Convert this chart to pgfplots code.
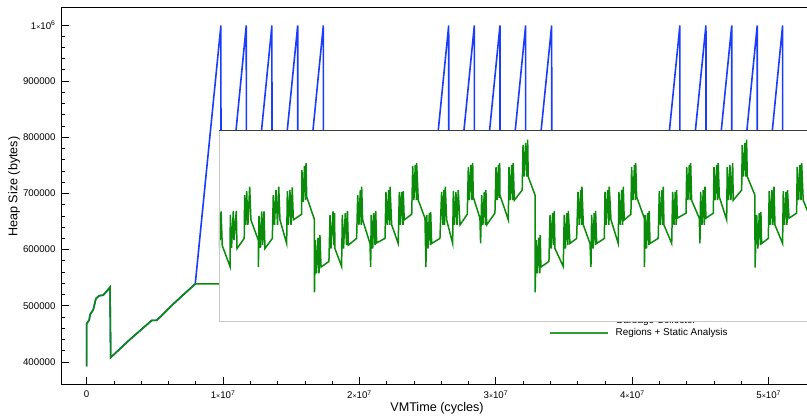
\documentclass[border=0pt]{standalone}
\usepackage{fontspec}
\setmainfont{Liberation Sans}
\usepackage{pgfplots}
\pgfplotsset{compat=1.18}

\definecolor{gcblue}{RGB}{25,60,255}
\definecolor{rsgreen}{RGB}{10,140,10}
\definecolor{boxedge}{RGB}{200,200,200}
\definecolor{boxtop}{RGB}{60,60,60}

% small multiplication sign used in the tick labels
\newcommand{\tms}{{\fontsize{7}{7}\selectfont ×}}

\begin{document}
\begin{tikzpicture}
% x in units of 10^6 cycles, y in units of 1000 bytes
\begin{axis}[
  at={(0,0)}, anchor=south west,
  x=13.64pt, y=0.5617pt,
  xmin=-1.81, xmax=53.18, ymin=360.8, ymax=1031.5,
  axis line style={line width=1pt},
  xtick={0,10,20,30,40,50},
  xticklabels={0,1\tms10\textsuperscript{7},2\tms10\textsuperscript{7},3\tms10\textsuperscript{7},4\tms10\textsuperscript{7},5\tms10\textsuperscript{7}},
  ytick={400,500,600,700,800,900,1000},
  yticklabels={400000,500000,600000,700000,800000,900000,1\tms10\textsuperscript{6}},
  minor x tick num=4, minor y tick num=4,
  tick pos=left, tick align=inside,
  major tick length=7pt, minor tick length=3.5pt,
  tick style={line width=0.8pt, black},
  ticklabel style={font=\fontsize{9.7}{11}\selectfont},
  yticklabel style={xshift=-3pt},
  xticklabel style={yshift=-3pt},
  xlabel={VMTime (cycles)},
  ylabel={Heap Size (bytes)},
  xlabel style={at={(rel axis cs:0.5,-0.0648)}, anchor=center, font=\fontsize{12.6}{14}\selectfont},
  ylabel style={at={(rel axis cs:-0.0637,0.524)}, anchor=center, font=\fontsize{12.6}{14}\selectfont},
  legend style={at={(0.6493,0.1517)}, anchor=west, draw=none, fill=none,
    inner sep=0pt, outer sep=0pt, font=\fontsize{9.9}{11}\selectfont, row sep=2.5pt,
    nodes={inner sep=0pt, text height=7.3pt, text depth=2.4pt}},
  /tikz/every odd column/.append style={column sep=7pt},
  legend cell align=left,
]
\addplot[gcblue, line width=1.6pt,
  legend image code/.code={\draw[gcblue, line width=1.6pt] (0pt,0pt) -- (58pt,0pt);}] coordinates {
  (0,392) (0,468) (0.19,475) (0.24,484) (0.48,493) (0.68,513) (0.92,518) (1.22,519)
  (1.71,533) (1.76,408) (3.17,440) (4.77,474) (5.13,474) (6.47,506) (7.96,539)
  (9.84,999) (9.85,540) (11.70,999) (11.71,540) (13.58,999) (13.59,540)
  (15.47,999) (15.48,540) (17.35,999) (17.36,540)
  (24.66,540) (26.54,999) (26.55,540) (28.42,999) (28.43,540) (30.30,999) (30.31,540)
  (32.18,999) (32.19,540) (34.09,999) (34.10,540)
  (41.61,540) (43.49,999) (43.50,540) (45.40,999) (45.41,540) (47.29,999) (47.30,540)
  (49.16,999) (49.17,540) (51.02,999) (51.03,540) (53.5,540)
};
\addlegendentry{Garbage Collector}
\addplot[rsgreen, line width=1.6pt,
  legend image code/.code={\draw[rsgreen!85!white, line width=1.6pt] (0pt,0pt) -- (58pt,0pt);}] coordinates {
  (0,392) (0,468) (0.19,475) (0.24,484) (0.48,493) (0.68,513) (0.92,518) (1.22,519)
  (1.71,533) (1.76,408) (3.17,440) (4.77,474) (5.13,474) (6.47,506) (7.96,539)
  (9.80,539)
};
\addlegendentry{Regions + Static Analysis}
\coordinate (boxsw) at (axis cs:9.70,473);
\end{axis}

% white panel that lies over the plot, with the green series drawn over it
\begin{axis}[
  at={(boxsw)}, anchor=south west,
  x=13.64pt, y=0.5617pt,
  xmin=9.70, xmax=53.4, ymin=473, ymax=812.5,
  axis line style={draw=none}, ticks=none,
  axis background/.style={fill=white},
  clip mode=individual,
]
\addplot[rsgreen, line width=1.5pt] coordinates {
  (9.72,602) (9.74,662) (9.79,617) (9.85,668) (9.94,607) (10.51,570)
  (10.53,662) (10.62,603) (10.75,669) (10.80,617) (10.97,669) (11.02,602) (11.55,620)
  (11.58,697) (11.66,644) (11.73,704) (11.82,644) (11.95,712) (12.04,653) (12.58,617)
  (12.59,569) (12.63,660) (12.74,603) (12.83,668) (12.90,608) (13.00,668) (13.07,602) (13.61,620)
  (13.68,697) (13.77,644) (13.88,706) (13.99,644) (14.08,712) (14.17,653) (14.66,611)
  (14.71,704) (14.79,644) (14.90,706) (14.98,644) (15.07,711) (15.15,653) (15.76,663)
  (15.78,742) (15.86,685) (15.97,749) (16.04,688) (16.08,754) (16.13,694) (16.69,654)
  (16.70,524) (16.76,617) (16.85,558) (16.96,621) (17.03,558) (17.10,626) (17.18,569) (17.76,579)
  (17.84,662) (17.91,602) (18.06,668) (18.13,608) (18.17,665) (18.20,602) (18.69,570)
  (18.74,662) (18.83,602) (18.96,665) (19.05,608) (19.12,669) (19.18,608) (19.79,620)
  (19.87,697) (19.96,644) (20.06,706) (20.13,644) (20.16,712) (20.23,653) (20.77,611)
  (20.82,569) (20.86,662) (20.97,602) (21.04,665) (21.14,608) (21.19,669) (21.26,612) (21.87,620)
  (21.94,703) (22.04,644) (22.14,706) (22.21,644) (22.24,712) (22.36,644) (22.84,611)
  (22.92,703) (23.00,644) (23.09,703) (23.19,644) (23.21,704) (23.28,653) (23.83,663)
  (23.90,749) (23.99,688) (24.09,751) (24.18,688) (24.19,754) (24.31,688) (24.80,656)
  (24.87,569) (24.93,662) (25.02,602) (25.12,665) (25.20,608) (25.22,667) (25.29,611) (25.90,620)
  (26.02,703) (26.12,644) (26.19,706) (26.24,644) (26.29,712) (26.39,653) (26.83,611)
  (26.88,704) (26.96,644) (27.07,703) (27.15,644) (27.24,706) (27.37,644) (27.90,663)
  (27.98,747) (28.06,688) (28.17,751) (28.25,688) (28.30,754) (28.34,694) (28.83,656)
  (28.88,611) (28.96,697) (29.05,644) (29.15,703) (29.24,644) (29.27,706) (29.32,644) (29.93,665)
  (30.01,747) (30.10,688) (30.19,751) (30.25,692) (30.28,754) (30.30,697) (30.91,653)
  (30.96,747) (31.05,688) (31.16,751) (31.23,688) (31.27,754) (31.35,688) (31.93,706)
  (31.99,786) (32.08,730) (32.18,790) (32.28,730) (32.33,796) (32.37,730) (32.87,697)
  (32.88,524) (32.96,617) (33.05,558) (33.14,621) (33.23,558) (33.25,626) (33.30,569) (33.89,579)
  (33.97,662) (34.06,602) (34.16,665) (34.24,608) (34.28,669) (34.33,602) (34.94,570)
  (35.01,662) (35.10,602) (35.21,665) (35.28,608) (35.31,669) (35.43,611) (35.92,620)
  (36.02,703) (36.11,644) (36.22,706) (36.29,644) (36.31,712) (36.41,644) (36.90,611)
  (36.97,569) (37.02,662) (37.12,602) (37.21,665) (37.30,608) (37.31,669) (37.39,611) (37.95,620)
  (38.00,703) (38.09,644) (38.19,706) (38.29,644) (38.31,712) (38.44,653) (38.97,611)
  (39.02,703) (39.12,644) (39.22,706) (39.29,644) (39.34,712) (39.41,653) (39.90,663)
  (39.95,747) (40.05,688) (40.16,751) (40.23,688) (40.25,754) (40.32,694) (40.88,656)
  (40.89,569) (40.95,662) (41.04,602) (41.13,665) (41.22,608) (41.24,669) (41.30,611) (41.90,620)
  (41.98,704) (42.07,644) (42.18,706) (42.25,644) (42.27,712) (42.32,644) (42.89,611)
  (42.96,703) (43.06,644) (43.15,703) (43.22,644) (43.25,706) (43.30,656) (43.94,665)
  (43.99,747) (44.08,688) (44.18,751) (44.25,688) (44.28,754) (44.35,688) (44.91,656)
  (44.96,611) (45.01,703) (45.11,644) (45.20,706) (45.28,644) (45.33,712) (45.40,656) (45.94,665)
  (45.99,747) (46.08,688) (46.19,751) (46.26,688) (46.30,754) (46.38,694) (46.92,653)
  (46.96,747) (47.06,688) (47.16,751) (47.23,688) (47.36,754) (47.40,688) (48.02,706)
  (48.06,786) (48.15,730) (48.26,790) (48.33,730) (48.38,796) (48.43,730) (48.99,697)
  (49.00,568) (49.12,662) (49.21,602) (49.31,665) (49.40,608) (49.43,667) (49.48,611) (49.97,620)
  (50.04,704) (50.13,644) (50.24,706) (50.31,644) (50.39,712) (50.46,644) (51.02,611)
  (51.07,704) (51.16,644) (51.27,703) (51.34,644) (51.38,706) (51.49,656) (52.05,665)
  (52.09,747) (52.20,688) (52.29,751) (52.37,688) (52.42,754) (52.53,688) (52.81,671) (53.17,649)
};
\draw[boxedge, line width=0.8pt] (rel axis cs:0,1) -- (rel axis cs:0,0) -- (rel axis cs:1,0);
\draw[boxtop, line width=1pt] (rel axis cs:0,1) -- (rel axis cs:1,1);
\end{axis}

\pgfresetboundingbox
\useasboundingbox (-62pt,-32pt) rectangle (745pt,384pt);
\end{tikzpicture}
\end{document}
